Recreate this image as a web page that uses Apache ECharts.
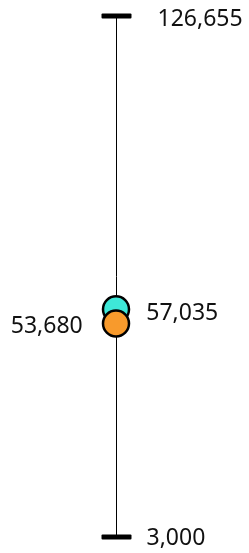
<!DOCTYPE html>
<html lang="en">

<head>
    <meta charset="UTF-8">
    <title>Range chart</title>
    <script src="https://cdn.jsdelivr.net/npm/echarts@6/dist/echarts.min.js"></script>
    <style>
        * {
            margin: 0;
            padding: 0;
        }

        body {
            background: #ffffff;
        }

        #chart {
            width: 249px;
            height: 553px;
        }
    </style>
</head>

<body>
    <div id="chart"></div>

    <script>
        // data
        const categories = ['A'];
        const rangeLow = [3000];
        const rangeHigh = [126655];
        const cyanValues = [57035];
        const orangeValues = [53680];

        const fmt = v => v.toLocaleString('en-US');
        const font = 'Noto Sans';
        const fontSize = 23;

        const chart = echarts.init(document.getElementById('chart'));

        // range line with caps and end labels
        function renderRange(params, api) {
            const lo = api.coord([api.value(0), api.value(1)]);
            const hi = api.coord([api.value(0), api.value(2)]);
            const x = Math.round(lo[0]) + 0.5;
            const capW = 30, capH = 5;
            return {
                type: 'group',
                children: [{
                    type: 'line',
                    shape: { x1: x, y1: lo[1], x2: x, y2: hi[1] },
                    style: { stroke: '#000', lineWidth: 1 }
                }, {
                    type: 'rect',
                    shape: { x: x - capW / 2, y: hi[1] - capH / 2, width: capW, height: capH, r: 1 },
                    style: { fill: '#000' }
                }, {
                    type: 'rect',
                    shape: { x: x - capW / 2, y: lo[1] - capH / 2, width: capW, height: capH, r: 1 },
                    style: { fill: '#000' }
                }, {
                    type: 'text',
                    style: {
                        x: x + 41, y: hi[1] + 3, text: fmt(api.value(2)),
                        fontFamily: font, fontSize: fontSize, fill: '#111',
                        align: 'left', verticalAlign: 'middle'
                    }
                }, {
                    type: 'text',
                    style: {
                        x: x + 30, y: lo[1] + 1, text: fmt(api.value(1)),
                        fontFamily: font, fontSize: fontSize, fill: '#111',
                        align: 'left', verticalAlign: 'middle'
                    }
                }]
            };
        }

        const option = {
            animation: false,
            grid: { left: 101, width: 30, top: 16, bottom: 16 },
            xAxis: { type: 'category', data: categories, show: false },
            yAxis: { type: 'value', min: 3000, max: 126655, show: false },
            series: [{
                type: 'custom',
                renderItem: renderRange,
                data: categories.map((c, i) => [i, rangeLow[i], rangeHigh[i]]),
                z: 1
            }, {
                type: 'scatter',
                data: cyanValues,
                symbolSize: 26,
                itemStyle: { color: '#3ee8d8', borderColor: '#000', borderWidth: 2.5, opacity: 1 },
                label: {
                    show: true, position: 'right', distance: 16,
                    formatter: p => fmt(p.value),
                    fontFamily: font, fontSize: fontSize, color: '#111', offset: [0, 4]
                },
                z: 2
            }, {
                type: 'scatter',
                data: orangeValues,
                symbolSize: 26,
                itemStyle: { color: '#f89a2c', borderColor: '#000', borderWidth: 2.5, opacity: 1 },
                label: {
                    show: true, position: 'left', distance: 19,
                    formatter: p => fmt(p.value),
                    fontFamily: font, fontSize: fontSize, color: '#111', offset: [0, 3]
                },
                z: 3
            }]
        };

        chart.setOption(option);
    </script>
</body>

</html>
